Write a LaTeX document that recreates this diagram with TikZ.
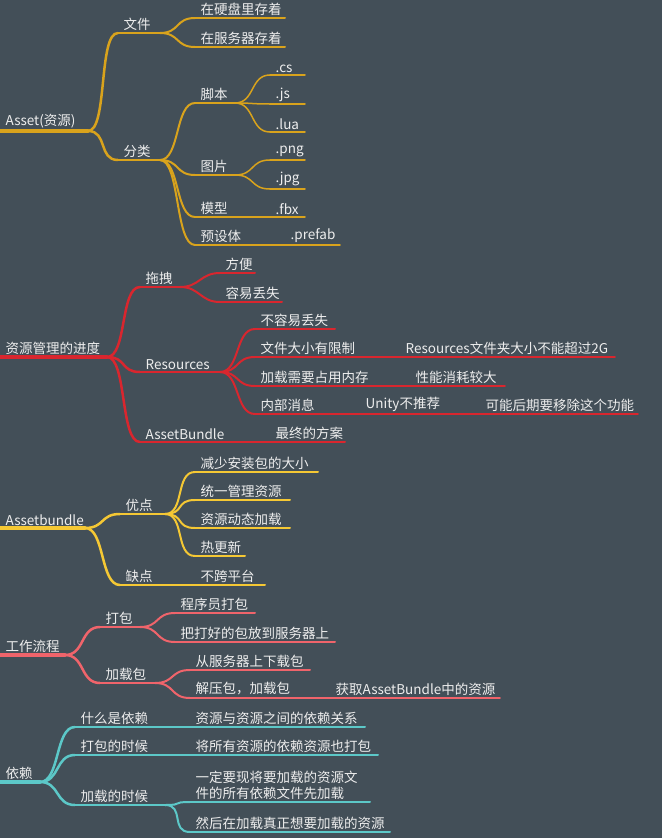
\documentclass[tikz,border=0pt]{standalone}
\usepackage{fontspec}
\setmainfont{Noto Sans CJK SC}
\definecolor{bg}{HTML}{434F58}
\definecolor{cA}{HTML}{D9A31C}
\definecolor{cB}{HTML}{D9262E}
\definecolor{cC}{HTML}{F5C834}
\definecolor{cD}{HTML}{F0646B}
\definecolor{cE}{HTML}{5CC8C8}
\definecolor{tx}{HTML}{EEEEEE}
\newcommand\mmnode[7]{% name x0 x1 y text color width
  \coordinate (#1-l) at (#2,#4);
  \coordinate (#1-r) at (#3,#4);
  \draw[#6,line width=#7,line cap=round] (#1-l) -- (#1-r);
  \node[lbl] (#1) at (#2+4,#4-1) {#5};}
\newcommand\mmlink[4]{% parent child color width
  \draw[#3,line width=#4] (#1-r) .. controls +(20,0) and +(-20,0) .. (#2-l);}
\begin{document}
\begin{tikzpicture}[x=1pt,y=-1pt,
  lbl/.style={anchor=south west,inner sep=1.5pt,text=tx,font=\fontsize{13.5}{16}\selectfont,align=left}]
\fill[bg] (0,0) rectangle (662,838);
\useasboundingbox (0,0) rectangle (662,838);
% group 1
\mmnode{a}{0}{88}{131}{Asset(资源)}{cA}{3.5pt}
\mmnode{a1}{118}{160}{33}{文件}{cA}{2.5pt}
\mmnode{a11}{195}{285}{18}{在硬盘里存着}{cA}{2pt}
\mmnode{a12}{195}{285}{47}{在服务器存着}{cA}{2pt}
\mmnode{a2}{118}{160}{160}{分类}{cA}{2.5pt}
\mmnode{a21}{195}{235}{103}{脚本}{cA}{2pt}
\mmnode{a211}{270}{305}{75}{.cs}{cA}{1.5pt}
\mmnode{a212}{270}{305}{104}{.js}{cA}{1.5pt}
\mmnode{a213}{270}{305}{132}{.lua}{cA}{1.5pt}
\mmnode{a22}{195}{235}{175}{图片}{cA}{2pt}
\mmnode{a221}{270}{305}{160}{.png}{cA}{1.5pt}
\mmnode{a222}{270}{305}{189}{.jpg}{cA}{1.5pt}
\mmnode{a23}{195}{235}{217}{模型}{cA}{2pt}
\mmnode{a231}{270}{305}{217}{.fbx}{cA}{1.5pt}
\mmnode{a24}{195}{250}{245}{预设体}{cA}{2pt}
\mmnode{a241}{285}{340}{245}{.prefab}{cA}{1.5pt}
\mmlink{a}{a1}{cA}{2.5pt}\mmlink{a}{a2}{cA}{2.5pt}
\mmlink{a1}{a11}{cA}{2pt}\mmlink{a1}{a12}{cA}{2pt}
\mmlink{a2}{a21}{cA}{2pt}\mmlink{a2}{a22}{cA}{2pt}\mmlink{a2}{a23}{cA}{2pt}\mmlink{a2}{a24}{cA}{2pt}
\mmlink{a21}{a211}{cA}{1.5pt}\mmlink{a21}{a212}{cA}{1.5pt}\mmlink{a21}{a213}{cA}{1.5pt}
\mmlink{a22}{a221}{cA}{1.5pt}\mmlink{a22}{a222}{cA}{1.5pt}
\mmlink{a23}{a231}{cA}{1.5pt}\mmlink{a24}{a241}{cA}{1.5pt}
% group 2
\mmnode{b}{0}{107}{357}{资源管理的进度}{cB}{3.5pt}
\mmnode{b1}{140}{180}{287}{拖拽}{cB}{2.5pt}
\mmnode{b11}{220}{255}{273}{方便}{cB}{2pt}
\mmnode{b12}{220}{282}{302}{容易丢失}{cB}{2pt}
\mmnode{b2}{140}{220}{372}{Resources}{cB}{2.5pt}
\mmnode{b21}{255}{335}{329}{不容易丢失}{cB}{2pt}
\mmnode{b22}{255}{360}{357}{文件大小有限制}{cB}{2pt}
\mmnode{b221}{400}{615}{357}{Resources文件夹大小不能超过2G}{cB}{1.5pt}
\mmnode{b23}{255}{370}{386}{加载需要占用内存}{cB}{2pt}
\mmnode{b231}{410}{505}{386}{性能消耗较大}{cB}{1.5pt}
\mmnode{b24}{255}{325}{414}{内部消息}{cB}{2pt}
\mmnode{b241}{360}{450}{414}{Unity不推荐}{cB}{1.5pt}
\mmnode{b2411}{480}{638}{414}{可能后期要移除这个功能}{cB}{1.5pt}
\mmnode{b3}{140}{235}{442}{AssetBundle}{cB}{2.5pt}
\mmnode{b31}{270}{345}{442}{最终的方案}{cB}{2pt}
\mmlink{b}{b1}{cB}{2.5pt}\mmlink{b}{b2}{cB}{2.5pt}\mmlink{b}{b3}{cB}{2.5pt}
\mmlink{b1}{b11}{cB}{2pt}\mmlink{b1}{b12}{cB}{2pt}
\mmlink{b2}{b21}{cB}{2pt}\mmlink{b2}{b22}{cB}{2pt}\mmlink{b2}{b23}{cB}{2pt}\mmlink{b2}{b24}{cB}{2pt}
\mmlink{b22}{b221}{cB}{1.5pt}\mmlink{b23}{b231}{cB}{1.5pt}\mmlink{b24}{b241}{cB}{1.5pt}\mmlink{b241}{b2411}{cB}{1.5pt}
\mmlink{b3}{b31}{cB}{2pt}
% group 3
\mmnode{c}{0}{85}{528}{Assetbundle}{cC}{3.5pt}
\mmnode{c1}{120}{165}{514}{优点}{cC}{2.5pt}
\mmnode{c11}{195}{318}{472}{减少安装包的大小}{cC}{2pt}
\mmnode{c12}{195}{290}{500}{统一管理资源}{cC}{2pt}
\mmnode{c13}{195}{290}{528}{资源动态加载}{cC}{2pt}
\mmnode{c14}{195}{245}{556}{热更新}{cC}{2pt}
\mmnode{c2}{120}{165}{585}{缺点}{cC}{2.5pt}
\mmnode{c21}{195}{265}{585}{不跨平台}{cC}{2pt}
\mmlink{c}{c1}{cC}{2.5pt}\mmlink{c}{c2}{cC}{2.5pt}
\mmlink{c1}{c11}{cC}{2pt}\mmlink{c1}{c12}{cC}{2pt}\mmlink{c1}{c13}{cC}{2pt}\mmlink{c1}{c14}{cC}{2pt}
\mmlink{c2}{c21}{cC}{2pt}
% group 4
\mmnode{d}{0}{65}{655}{工作流程}{cD}{3.5pt}
\mmnode{d1}{100}{140}{627}{打包}{cD}{2.5pt}
\mmnode{d11}{175}{255}{613}{程序员打包}{cD}{2pt}
\mmnode{d12}{175}{335}{642}{把打好的包放到服务器上}{cD}{2pt}
\mmnode{d2}{100}{155}{683}{加载包}{cD}{2.5pt}
\mmnode{d21}{190}{310}{670}{从服务器上下载包}{cD}{2pt}
\mmnode{d22}{190}{300}{698}{解压包，加载包}{cD}{2pt}
\mmnode{d221}{330}{500}{698}{获取AssetBundle中的资源}{cD}{1.5pt}
\mmlink{d}{d1}{cD}{2.5pt}\mmlink{d}{d2}{cD}{2.5pt}
\mmlink{d1}{d11}{cD}{2pt}\mmlink{d1}{d12}{cD}{2pt}
\mmlink{d2}{d21}{cD}{2pt}\mmlink{d2}{d22}{cD}{2pt}\mmlink{d22}{d221}{cD}{1.5pt}
% group 5
\mmnode{e}{0}{40}{782}{依赖}{cE}{3.5pt}
\mmnode{e1}{75}{160}{727}{什么是依赖}{cE}{2.5pt}
\mmnode{e11}{190}{365}{727}{资源与资源之间的依赖关系}{cE}{2pt}
\mmnode{e2}{75}{165}{755}{打包的时候}{cE}{2.5pt}
\mmnode{e21}{190}{378}{755}{将所有资源的依赖资源也打包}{cE}{2pt}
\mmnode{e3}{75}{165}{805}{加载的时候}{cE}{2.5pt}
\mmnode{e31}{190}{370}{802}{一定要现将要加载的资源文\\件的所有依赖文件先加载}{cE}{2pt}
\mmnode{e32}{190}{390}{832}{然后在加载真正想要加载的资源}{cE}{2pt}
\mmlink{e}{e1}{cE}{2.5pt}\mmlink{e}{e2}{cE}{2.5pt}\mmlink{e}{e3}{cE}{2.5pt}
\mmlink{e1}{e11}{cE}{2pt}\mmlink{e2}{e21}{cE}{2pt}
\mmlink{e3}{e31}{cE}{2pt}\mmlink{e3}{e32}{cE}{2pt}
\end{tikzpicture}
\end{document}
